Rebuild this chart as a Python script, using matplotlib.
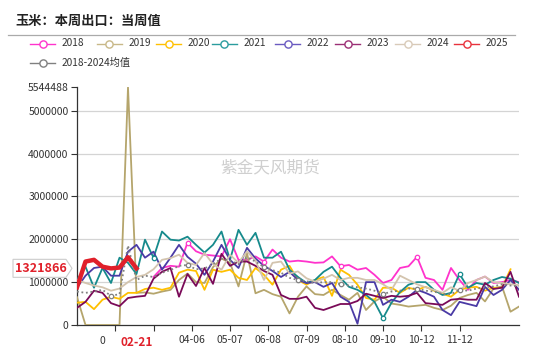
import matplotlib
matplotlib.use("Agg")
import matplotlib.pyplot as plt
from matplotlib.lines import Line2D
from matplotlib.patches import Polygon
import numpy as np

plt.rcParams['font.family'] = ['Noto Sans CJK SC', 'DejaVu Sans']

nan = np.nan
W, H = 550, 348

# weekly points, 2 categories per week on the category axis
x = np.arange(53) * 2

# values in millions
y2018 = [nan, nan, nan, nan, nan, nan, nan, nan, nan, 1.12,
         1.33, 1.38, 1.36, 1.92, 1.72, 1.64, 1.62, 1.60, 2.00, 1.52,
         1.52, 1.60, 1.48, 1.76, 1.57, 1.48, 1.50, 1.48, 1.45, 1.46,
         1.60, 1.37, 1.40, 1.29, 1.33, 1.17, 0.98, 1.05, 1.33, 1.37,
         1.59, 1.10, 1.05, 0.82, 1.33, 1.05, 0.82, 1.05, 1.13, 0.98,
         1.00, 1.05, 1.00]
y2019 = [0.65, 0.0, 0.0, 0.0, 0.0, 0.0, 5.544488, 0.75, 0.76, 0.73,
         0.78, 0.82, 1.05, 1.20, 1.00, 0.98, 1.35, 1.55, 1.45, 0.90,
         1.68, 0.74, 0.82, 0.72, 0.66, 0.27, 0.66, 0.90, 0.72, 0.70,
         0.82, 0.70, 0.59, 0.75, 0.35, 0.55, 0.66, 0.50, 0.47, 0.43,
         0.45, 0.47, 0.40, 0.35, 0.45, 0.63, 0.70, 0.75, 0.55, 0.85,
         0.90, 0.31, 0.43]
y2020 = [0.52, 0.54, 0.37, 0.59, 0.66, 0.61, 0.75, 0.75, 0.84, 0.87,
         0.82, 0.87, 1.22, 1.29, 1.26, 0.82, 1.29, 1.24, 1.29, 1.10,
         1.05, 1.33, 1.17, 0.94, 1.29, 1.38, 1.05, 0.94, 1.05, 1.12,
         0.68, 1.29, 1.17, 0.94, 0.63, 0.59, 0.87, 0.87, 0.75, 0.87,
         0.82, 0.89, 0.80, 0.73, 0.66, 0.82, 0.87, 0.89, 0.80, 0.87,
         0.87, 1.30, nan]
y2021 = [1.05, 1.36, 0.87, 1.33, 0.98, 1.57, 1.45, 1.19, 1.99, 1.57,
         2.18, 1.99, 1.97, 2.06, 1.87, 1.69, 1.87, 2.18, 1.52, 2.22,
         1.87, 2.15, 1.57, 1.57, 1.71, 1.29, 1.12, 0.98, 1.05, 1.24,
         1.36, 1.10, 0.89, 0.82, 0.70, 0.54, 0.16, 0.52, 0.77, 0.94,
         1.00, 1.00, 0.82, 0.70, 0.75, 1.19, 0.87, 0.98, 0.94, 1.05,
         1.12, 1.08, 0.98]
y2022 = [0.87, 1.15, 1.33, 1.36, 1.15, 1.15, 1.71, 1.87, 1.57, 1.71,
         1.29, 1.57, 1.87, 1.59, 1.43, 1.17, 1.48, 1.87, 1.52, 1.33,
         1.80, 1.55, 1.38, 1.26, 1.12, 1.24, 1.05, 0.98, 1.00, 0.89,
         0.98, 0.66, 0.54, 0.03, 1.00, 1.00, 0.47, 0.59, 0.54, 0.66,
         0.82, 0.75, 0.66, 0.35, 0.23, 0.54, 0.49, 0.44, 0.89, 0.70,
         0.82, 1.05, 0.82]
y2023 = [0.40, 0.54, 0.80, 0.75, 0.51, 0.44, 0.63, 0.66, 0.68, 1.08,
         1.24, 1.33, 0.66, 1.19, 0.91, 1.33, 0.96, 1.66, 1.38, 1.48,
         1.48, 1.38, 1.26, 1.17, 0.70, 0.61, 0.61, 0.66, 0.40, 0.35,
         0.42, 0.49, 0.49, 0.56, 0.73, 0.68, 0.63, 0.68, 0.66, 0.68,
         0.75, 0.51, 0.49, 0.47, 0.59, 0.61, 0.59, 0.59, 0.98, 0.84,
         0.87, 1.24, 0.66]
y2024 = [1.05, 0.98, 0.92, 0.88, 0.80, 0.85, 1.00, 1.12, 1.17, 1.30,
         1.52, 1.56, 1.64, 1.45, 1.40, 1.68, 1.42, 1.29, 1.64, 1.45,
         1.72, 1.50, 1.05, 1.45, 1.48, 1.20, 1.25, 1.09, 1.01, 1.08,
         1.17, 1.05, 1.10, 1.10, 1.05, 1.05, 0.95, 0.82, 1.15, 1.05,
         0.95, 0.88, 0.82, 0.75, 0.88, 0.80, 0.98, 1.05, 1.13, 1.00,
         0.98, 0.95, 0.93]
y2025 = [0.88, 1.48, 1.52, 1.36, 1.32, 1.34, 1.58, 1.321866]
yavg = [0.78, 0.75, 0.78, 0.82, 0.68, 0.72, 1.85, 1.05, 1.15, 1.12,
        1.22, 1.28, 1.38, 1.40, 1.30, 1.32, 1.42, 1.55, 1.50, 1.42,
        1.58, 1.48, 1.35, 1.28, 1.22, 1.10, 1.05, 1.02, 0.98, 1.00,
        1.00, 0.95, 0.92, 0.88, 0.85, 0.80, 0.72, 0.78, 0.80, 0.85,
        0.85, 0.80, 0.78, 0.72, 0.72, 0.82, 0.80, 0.85, 0.88, 0.90,
        0.95, 0.92, 0.90]

tick_pos = [9, 18, 27, 36, 45, 54, 63, 72, 81, 90]
tick_lbl = ['', '', '04-06', '05-07', '06-08', '07-09', '08-10', '09-10', '10-12', '11-12']
ymax = 5544488
last_val = 1321866

series = [
    ('2018', y2018, '#FF33CC', [13, 22, 31, 40]),
    ('2019', y2019, '#B5A56C', []),
    ('2020', y2020, '#FFC000', []),
    ('2021', y2021, '#168A8C', [9, 36, 45]),
    ('2022', y2022, '#4A3AA5', []),
    ('2023', y2023, '#7A0A58', []),
    ('2024', y2024, '#D3C4AE', []),
]

fig = plt.figure(figsize=(W / 100, H / 100), dpi=100)
ax = fig.add_axes([77 / W, 1 - 325 / H, (519 - 77) / W, (325 - 87.3) / H])

for name, vals, col, mk in series:
    v = np.array(vals) * 1e6
    ax.plot(x, v, color=col, lw=1.3, zorder=3)
    if mk:
        ax.plot(x[mk], v[mk], ls='none', marker='o', ms=3.2, mfc='white',
                mec=col, mew=0.9, zorder=4)

va = np.array(yavg) * 1e6
ax.plot(x, va, color='#808080', lw=1.3, ls=(0, (1, 1.5)), zorder=4)
mk = [4, 13, 22, 26, 31, 36, 40, 45]
ax.plot(x[mk], va[mk], ls='none', marker='o', ms=3.2, mfc='white',
        mec='#808080', mew=0.9, zorder=5)

ax.plot(x[:len(y2025)], np.array(y2025) * 1e6, color='#E0202A', lw=3.2,
        zorder=6, solid_joinstyle='round')

ax.set_xlim(0, 104)
ax.set_ylim(0, ymax)
ax.set_yticks([0, 1000000, 2000000, 3000000, 4000000, 5000000, ymax])
ax.set_yticklabels(['0', '1000000', '2000000', '3000000', '4000000', '5000000', str(ymax)])
ax.set_xticks(tick_pos)
ax.set_xticklabels(tick_lbl)
ax.tick_params(axis='both', labelsize=7.5, colors='#333333', length=4, width=0.8, pad=2)
ax.tick_params(axis='x', pad=3)
for s in ['top', 'right']:
    ax.spines[s].set_visible(False)
for s in ['left', 'bottom']:
    ax.spines[s].set_color('#333333')
    ax.spines[s].set_linewidth(0.9)
for g in [1000000, 2000000, 3000000, 4000000, 5000000]:
    ax.axhline(g, color='#d4d4d4', lw=0.9, zorder=1)

# leftover part of a covered label and the pointer date
ax.text(6, -0.048, '0', transform=ax.get_xaxis_transform(), ha='center', va='top',
        fontsize=7.5, color='#333333')
ax.text(14, -0.045, '02-21', transform=ax.get_xaxis_transform(), ha='center', va='top',
        fontsize=8.5, color='#E0202A', fontweight='bold',
        bbox=dict(boxstyle='square,pad=0.15', fc='white', ec='none'))

# watermark
fig.text(270 / W, 1 - 168 / H, '紫金天风期货', fontsize=12, color='#cfcfcf',
         ha='center', va='center')

# title and separator
fig.text(15 / W, 1 - 21 / H, '玉米：本周出口：当周值', fontsize=9.5, fontweight='bold',
         color='#222222', ha='left', va='center')
fig.add_artist(Line2D([8 / W, 515 / W], [1 - 34.7 / H] * 2, color='#aaaaaa', lw=0.9))

# legend
leg = [(30, 43.5, '2018', '#FF33CC'), (96.7, 43.5, '2019', '#C8B888'),
       (156, 43.5, '2020', '#FFC000'), (211.7, 43.5, '2021', '#2A9C9E'),
       (275, 43.5, '2022', '#6A5AC0'), (335, 43.5, '2023', '#9B2F75'),
       (395, 43.5, '2024', '#D8CAB8'), (454, 43.5, '2025', '#E8323C'),
       (30, 62.7, '2018-2024均值', '#808080')]
for lx, ly, t, c in leg:
    fig.add_artist(Line2D([lx / W, (lx + 25) / W], [1 - ly / H] * 2, color=c, lw=1.0))
    fig.add_artist(Line2D([(lx + 12.5) / W], [1 - ly / H], marker='o', ms=5.2,
                          mfc='white', mec=c, mew=1.0, ls='none'))
    fig.text((lx + 32) / W, 1 - ly / H, t, fontsize=7.3, color='#333333',
             ha='left', va='center')

# y pointer label for latest value
fig.canvas.draw()
py = ax.transData.transform((0, last_val))[1]
poly = Polygon([[13, py - 9], [66, py - 9], [72, py], [66, py + 9], [13, py + 9]],
               closed=True, fc='white', ec='#cccccc', lw=0.8, transform=None)
fig.add_artist(poly)
fig.text(41 / W, py / H, str(last_val), fontsize=9, fontweight='bold', color='#E0202A',
         ha='center', va='center')

fig.savefig('out.png', dpi=100)
